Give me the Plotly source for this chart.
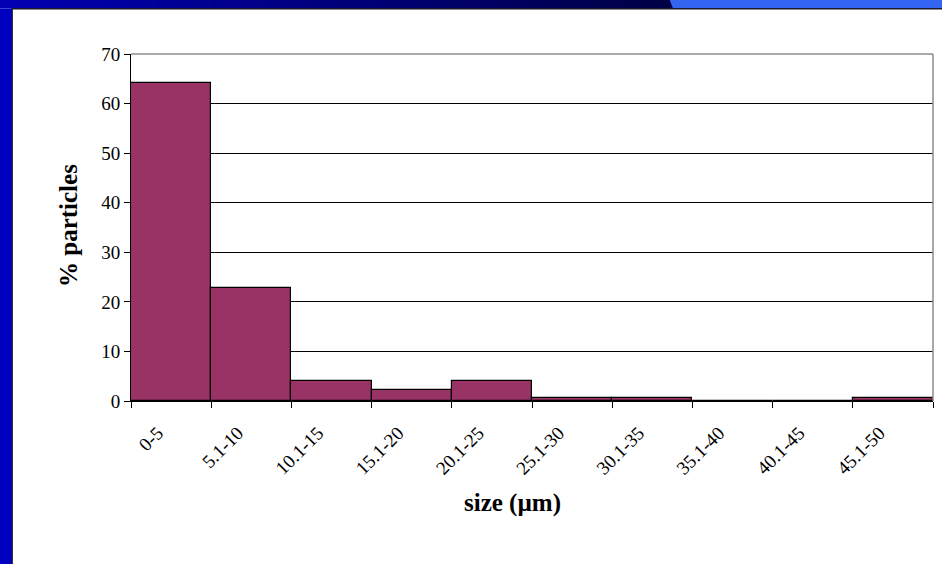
import plotly.graph_objects as go

categories = ["0-5", "5.1-10", "10.1-15", "15.1-20", "20.1-25",
              "25.1-30", "30.1-35", "35.1-40", "40.1-45", "45.1-50"]
percent_particles = [64.2, 22.8, 4.0, 2.2, 4.0, 0.6, 0.6, 0.0, 0.0, 0.6]
y_ticks = [0, 10, 20, 30, 40, 50, 60, 70]

W, H = 942, 564
ML, MR, MT, MB = 131, 9, 54, 163
PW, PH = W - ML - MR, H - MT - MB


def px(x):
    return (x - ML) / PW


def py(y):
    return (H - MB - y) / PH


fig = go.Figure()
fig.add_trace(go.Bar(
    x=categories, y=percent_particles,
    marker=dict(color="#993366", line=dict(color="#000000", width=1.2)),
    showlegend=False, hoverinfo="skip",
))

shapes = []
# top gradient bar
n = 60
x0, x1 = 0, 672
c0 = (0, 0, 178)
c1 = (0, 0, 70)
for i in range(n):
    t = i / (n - 1)
    c = tuple(int(round(c0[k] + (c1[k] - c0[k]) * t)) for k in range(3))
    shapes.append(dict(type="rect", xref="paper", yref="paper",
                       x0=px(x0 + (x1 - x0) * i / n), x1=px(x0 + (x1 - x0) * (i + 1) / n + 2),
                       y0=py(8.5), y1=py(-2), line=dict(width=0),
                       fillcolor="rgb(%d,%d,%d)" % c, layer="above"))
# light blue tab
shapes.append(dict(type="path", xref="paper", yref="paper",
                   path="M %f,%f L %f,%f L %f,%f L %f,%f Z" % (
                       px(669), py(-2), px(W + 2), py(-2), px(W + 2), py(8.5), px(673), py(8.5)),
                   fillcolor="#3464F2", line=dict(width=0), layer="above"))
# left strip
shapes.append(dict(type="rect", xref="paper", yref="paper",
                   x0=px(-2), x1=px(12), y0=py(H + 2), y1=py(8.5),
                   fillcolor="#0000C0", line=dict(width=0), layer="above"))
# dark edge lines
shapes.append(dict(type="line", xref="paper", yref="paper",
                   x0=px(12), x1=px(W + 2), y0=py(8.8), y1=py(8.8),
                   line=dict(color="#1a1a2a", width=1.5), layer="above"))
shapes.append(dict(type="line", xref="paper", yref="paper",
                   x0=px(12.3), x1=px(12.3), y0=py(8.8), y1=py(H + 2),
                   line=dict(color="#1a1a2a", width=1.2), layer="above"))
# plot frame (top & right gray)
shapes.append(dict(type="line", xref="paper", yref="paper",
                   x0=0, x1=1, y0=1, y1=1, line=dict(color="#8c8c8c", width=1.5), layer="above"))
shapes.append(dict(type="line", xref="paper", yref="paper",
                   x0=1, x1=1, y0=0, y1=1, line=dict(color="#8c8c8c", width=1.5), layer="above"))

annotations = [
    dict(text="<b>size (µm)</b>", xref="paper", yref="paper", x=px(512), y=py(503),
         xanchor="center", yanchor="middle", showarrow=False, font=dict(size=25)),
    dict(text="<b>% particles</b>", xref="paper", yref="paper", x=px(68), y=py(226),
         xanchor="center", yanchor="middle", showarrow=False, textangle=-90,
         font=dict(size=25)),
]

pad = "\u00a0" * 4
tick_text = [c + pad for c in categories]

fig.update_layout(
    width=W, height=H,
    margin=dict(l=ML, r=MR, t=MT, b=MB, autoexpand=False),
    paper_bgcolor="#ffffff", plot_bgcolor="#ffffff",
    bargap=0,
    font=dict(family="Liberation Serif, Times New Roman, serif", color="#000000", size=19),
    shapes=shapes,
    annotations=annotations,
    xaxis=dict(
        type="category", tickangle=-45, tickson="boundaries",
        tickvals=categories, ticktext=tick_text,
        ticks="outside", ticklen=6, tickcolor="#000000", tickwidth=1,
        showline=True, linecolor="#000000", linewidth=1,
        showgrid=False, tickfont=dict(size=19), ticklabelstandoff=-1,
        automargin=False,
    ),
    yaxis=dict(
        range=[0, 70], tickvals=y_ticks,
        ticks="outside", ticklen=6, tickcolor="#000000", tickwidth=1,
        showline=True, linecolor="#000000", linewidth=1,
        showgrid=True, gridcolor="#000000", gridwidth=1,
        zeroline=False, tickfont=dict(size=19),
        automargin=False,
    ),
)

fig.write_html("out.html", config={"displayModeBar": False},
               post_script="document.body.style.margin='0';document.body.style.overflow='hidden';")
